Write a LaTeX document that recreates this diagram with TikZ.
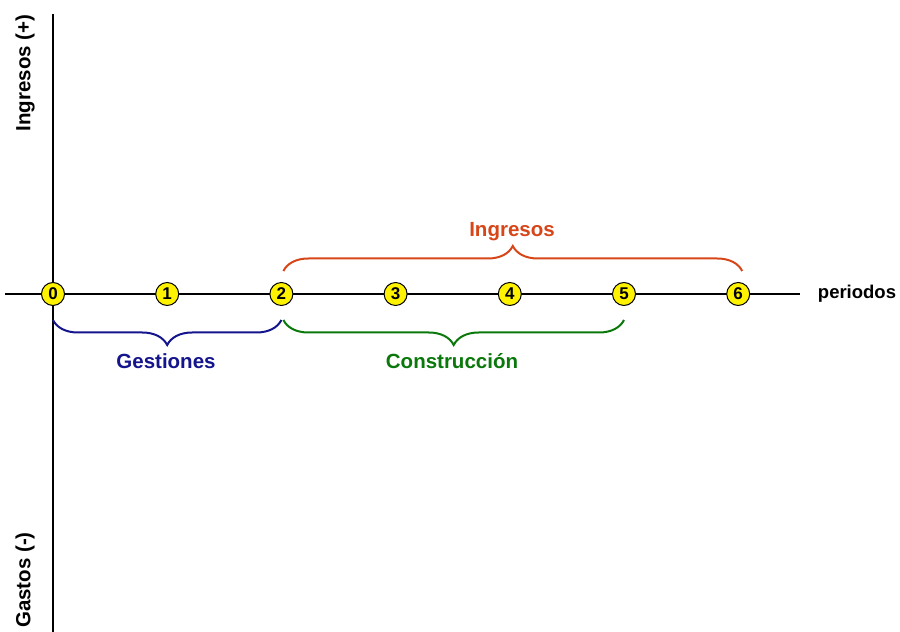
\documentclass[tikz,border=0pt]{standalone}
\usepackage{fontspec}
\setmainfont{Liberation Sans}
\usetikzlibrary{decorations.pathreplacing}
\definecolor{gestblue}{RGB}{20,20,140}
\definecolor{constgreen}{RGB}{10,120,10}
\definecolor{ingred}{RGB}{215,70,25}
\begin{document}
\begin{tikzpicture}[x=1pt,y=1pt,
  pt/.style={circle,draw=black,fill=yellow,line width=1pt,minimum size=23pt,inner sep=0pt,font=\fontsize{17}{17}\selectfont\bfseries},
  lbl/.style={font=\fontsize{20.5}{22}\selectfont\bfseries},
  brc/.style={decorate,decoration={brace,amplitude=25pt},line width=2pt}]
\useasboundingbox (0,0) rectangle (900,632);
\coordinate (vtop) at (53,618);
\coordinate (vbot) at (53,0);
\coordinate (hl) at (5,338);
\coordinate (hr) at (800,338);
\draw[line width=2pt] (vtop) -- (vbot);
\draw[line width=2pt] (hl) -- (hr);
\foreach \i in {0,...,6}{
  \node[pt] (p\i) at ({53+114.2*\i},338) {\i};
}
\node[font=\fontsize{18.5}{20}\selectfont\bfseries] (per) at (857,338) {periodos};
\node[lbl,rotate=90] (ing) at (25,559) {Ingresos (+)};
\node[lbl,rotate=90] (gas) at (25,52) {Gastos (-)};
% braces
\draw[brc,gestblue] ([yshift=-14pt]p2.south) -- ([yshift=-14pt]p0.south);
\draw[brc,constgreen] ([yshift=-14pt]p5.south) -- ([xshift=2pt,yshift=-14pt]p2.south);
\draw[brc,ingred] ([xshift=2pt,yshift=11pt]p2.north) -- ([xshift=4pt,yshift=11pt]p6.north);
\node[lbl,text=gestblue] (gest) at (166,271) {Gestiones};
\node[lbl,text=constgreen] (cons) at (452,271) {Construcción};
\node[lbl,text=ingred] (ingt) at (512,400) {Ingresos};
\end{tikzpicture}
\end{document}
